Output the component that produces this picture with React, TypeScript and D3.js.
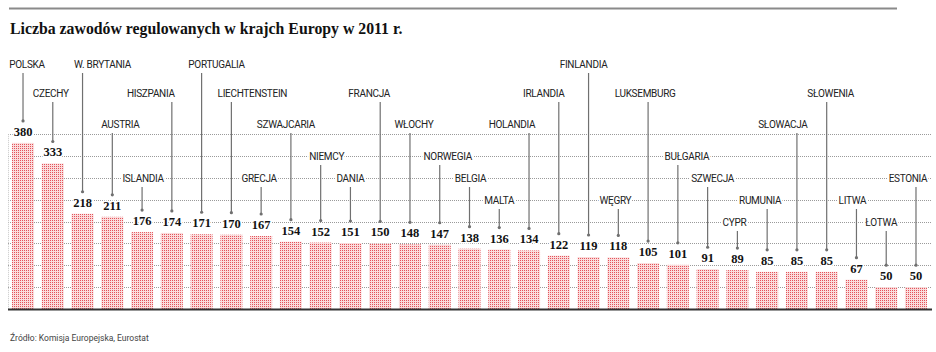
import React, { useEffect, useRef } from "react";
import * as d3 from "d3";

const countries = [
  "POLSKA", "CZECHY", "W. BRYTANIA", "AUSTRIA", "ISLANDIA", "HISZPANIA",
  "PORTUGALIA", "LIECHTENSTEIN", "GRECJA", "SZWAJCARIA", "NIEMCY", "DANIA",
  "FRANCJA", "WŁOCHY", "NORWEGIA", "BELGIA", "MALTA", "HOLANDIA", "IRLANDIA",
  "FINLANDIA", "WĘGRY", "LUKSEMBURG", "BUŁGARIA", "SZWECJA", "CYPR",
  "RUMUNIA", "SŁOWACJA", "SŁOWENIA", "LITWA", "ŁOTWA", "ESTONIA",
];

const values = [
  380, 333, 218, 211, 176, 174, 171, 170, 167, 154, 152, 151, 150, 148, 147,
  138, 136, 134, 122, 119, 118, 105, 101, 91, 89, 85, 85, 85, 67, 50, 50,
];

const gridTicks = [0, 50, 100, 150, 200, 250, 300, 350, 400];

const title = "Liczba zawodów regulowanych w krajch Europy w 2011 r.";
const source = "Źródło:  Komisja Europejska, Eurostat";

// which row each country name sits in (0 = top), and how far the name is shifted from its bar
const labelTier = [0, 1, 0, 2, 4, 1, 0, 1, 4, 2, 3, 4, 1, 2, 3, 4, 5, 2, 1, 0, 5, 1, 3, 4, 6, 5, 2, 1, 5, 6, 4];
const labelShift = [4, -2, 20, 8, 1, -21, 15, 21, -2, -5, 6, 0, -11, 4, 8, 1, 0, -17, -15, -5, -3, -3, 9, 5, -3, -7, -14, 4, -4, -5, -8];

function App() {
  const svgRef = useRef<SVGSVGElement>(null);
  const width = 936;
  const height = 352;

  useEffect(() => {
    const svg = d3.select(svgRef.current);
    svg.selectAll("*").remove();

    const rows = [64, 93, 124, 156, 178, 200, 222]; // y of each name row
    const data = countries.map((name, i) => ({
      name,
      value: values[i],
      tier: labelTier[i],
      shift: labelShift[i],
    }));

    const x = d3
      .scaleBand()
      .domain(countries)
      .range([12, 927])
      .paddingInner(0.26)
      .paddingOuter(0);

    const y = d3.scaleLinear().domain([0, 400]).range([309, 134.2]);

    // dotted fill of the bars
    const defs = svg.append("defs");
    const pat = defs
      .append("pattern")
      .attr("id", "dots")
      .attr("width", 2)
      .attr("height", 2)
      .attr("patternUnits", "userSpaceOnUse");
    pat.append("rect").attr("width", 2).attr("height", 2).attr("fill", "#fadcdc");
    pat.append("rect").attr("width", 1).attr("height", 1).attr("fill", "#e4525a");

    // top rule
    svg
      .append("line")
      .attr("x1", 9)
      .attr("x2", 897)
      .attr("y1", 8.5)
      .attr("y2", 8.5)
      .attr("stroke", "#8a8a8a")
      .attr("stroke-width", 2);

    // title
    svg
      .append("text")
      .attr("x", 10)
      .attr("y", 34)
      .text(title)
      .style("font-family", "'Liberation Serif', serif")
      .style("font-weight", "bold")
      .style("font-size", "15.8px")
      .attr("fill", "#111");

    // grid lines
    svg
      .append("g")
      .selectAll("line")
      .data(gridTicks.filter((t) => t > 0))
      .join("line")
      .attr("x1", 8)
      .attr("x2", 932)
      .attr("y1", (d) => Math.round(y(d)) + 0.5)
      .attr("y2", (d) => Math.round(y(d)) + 0.5)
      .attr("stroke", "#9a9a9a")
      .attr("stroke-width", 1)
      .attr("stroke-dasharray", "1,1");

    svg
      .append("line")
      .attr("x1", 8.5)
      .attr("x2", 8.5)
      .attr("y1", y(400))
      .attr("y2", y(0))
      .attr("stroke", "#c8c8c8")
      .attr("stroke-dasharray", "1,1");

    // bars
    svg
      .append("g")
      .selectAll("rect")
      .data(data)
      .join("rect")
      .attr("x", (d) => x(d.name)!)
      .attr("y", (d) => y(d.value))
      .attr("width", x.bandwidth())
      .attr("height", (d) => y(0) - y(d.value))
      .attr("fill", "url(#dots)");

    // baseline
    svg
      .append("line")
      .attr("x1", 8)
      .attr("x2", 932)
      .attr("y1", 309.5)
      .attr("y2", 309.5)
      .attr("stroke", "#333")
      .attr("stroke-width", 2);

    const cx = (d: any) => x(d.name)! + x.bandwidth() / 2;

    // leader lines from names down to values
    svg
      .append("g")
      .selectAll("line")
      .data(data)
      .join("line")
      .attr("x1", cx)
      .attr("x2", cx)
      .attr("y1", (d) => rows[d.tier] + 9)
      .attr("y2", (d) => y(d.value) - 22)
      .attr("stroke", "#707070")
      .attr("stroke-width", 1.2);

    svg
      .append("g")
      .selectAll("circle")
      .data(data)
      .join("circle")
      .attr("cx", cx)
      .attr("cy", (d) => y(d.value) - 22)
      .attr("r", 1.6)
      .attr("fill", "#707070");

    // value labels
    svg
      .append("g")
      .selectAll("text")
      .data(data)
      .join("text")
      .attr("x", cx)
      .attr("y", (d) => y(d.value) - 7)
      .attr("text-anchor", "middle")
      .text((d) => d.value)
      .style("font-family", "'Liberation Serif', serif")
      .style("font-weight", "bold")
      .style("font-size", "12.5px")
      .style("paint-order", "stroke")
      .attr("stroke", "#fff")
      .attr("stroke-width", 3)
      .attr("fill", "#111");

    // country names
    svg
      .append("g")
      .selectAll("text")
      .data(data)
      .join("text")
      .attr("x", (d) => cx(d) + d.shift)
      .attr("y", (d) => rows[d.tier])
      .attr("dy", "0.35em")
      .attr("text-anchor", "middle")
      .text((d) => d.name)
      .style("font-family", "Roboto, sans-serif")
      .style("font-size", "10px")
      .style("letter-spacing", "-0.3px")
      .style("paint-order", "stroke")
      .attr("stroke", "#fff")
      .attr("stroke-width", 4)
      .attr("fill", "#222");

    // source
    svg
      .append("text")
      .attr("x", 10)
      .attr("y", 341)
      .text(source)
      .style("font-family", "Roboto, sans-serif")
      .style("font-size", "8.5px")
      .attr("fill", "#444");
  }, []);

  return (
    <svg
      ref={svgRef}
      width={width}
      height={height}
      style={{ position: "absolute", left: 0, top: 0, background: "#fff" }}
    ></svg>
  );
}

export default App;
